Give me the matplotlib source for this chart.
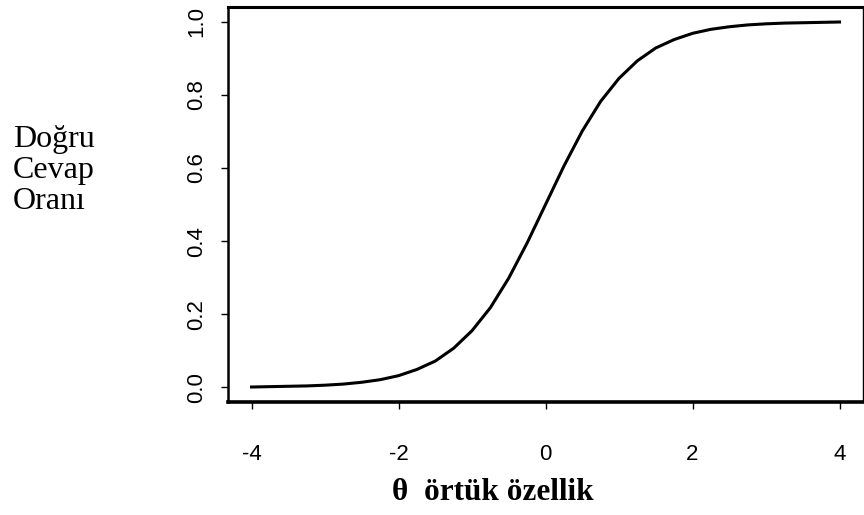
import matplotlib
matplotlib.use("Agg")
import matplotlib.pyplot as plt

# values (theta, proportion correct)
theta = [-4.0, -3.75, -3.5, -3.25, -3.0, -2.75, -2.5, -2.25, -2.0, -1.75,
         -1.5, -1.25, -1.0, -0.75, -0.5, -0.25, 0.0, 0.25, 0.5, 0.75,
         1.0, 1.25, 1.5, 1.75, 2.0, 2.25, 2.5, 2.75, 3.0, 3.25,
         3.5, 3.75, 4.0]
p_correct = [0.001, 0.002, 0.003, 0.004, 0.006, 0.009, 0.014, 0.021, 0.032, 0.049,
             0.072, 0.107, 0.155, 0.218, 0.299, 0.395, 0.500, 0.605, 0.701, 0.782,
             0.845, 0.893, 0.928, 0.951, 0.968, 0.979, 0.986, 0.991, 0.994, 0.996,
             0.997, 0.998, 0.999]

x_ticks = [-4, -2, 0, 2, 4]
y_ticks = [0.0, 0.2, 0.4, 0.6, 0.8, 1.0]

fig = plt.figure(figsize=(8.64, 5.15), dpi=100)
ax = fig.add_axes([0.2639, 0.2194, 0.735, 0.767])
ax.plot(theta, p_correct, color="black", linewidth=2.2)

ax.set_xlim(-4.32, 4.32)
ax.set_ylim(-0.04, 1.04)
ax.set_xticks(x_ticks)
ax.set_xticklabels([str(t) for t in x_ticks], fontfamily="Liberation Sans", fontsize=16)
ax.set_yticks(y_ticks)
ax.set_yticklabels(["%.1f" % t for t in y_ticks], fontfamily="Liberation Sans",
                   fontsize=16, rotation=90, va="center")
ax.tick_params(axis="x", length=5, width=1, pad=25)
ax.tick_params(axis="y", length=5, width=1, pad=10)

ax.spines["top"].set_linewidth(2.2)
ax.spines["bottom"].set_linewidth(2.6)
ax.spines["left"].set_linewidth(1.8)
ax.spines["right"].set_linewidth(1.0)

fig.text(0.015, 0.669, "Doğru\nCevap\nOranı", fontfamily="Liberation Serif",
         fontsize=23, ha="left", va="center", linespacing=1.08)
fig.text(0.570, 0.043, "θ  örtük özellik", fontfamily="Liberation Serif",
         fontweight="bold", fontsize=22.5, ha="center", va="center")

fig.savefig("out.png", dpi=100)
